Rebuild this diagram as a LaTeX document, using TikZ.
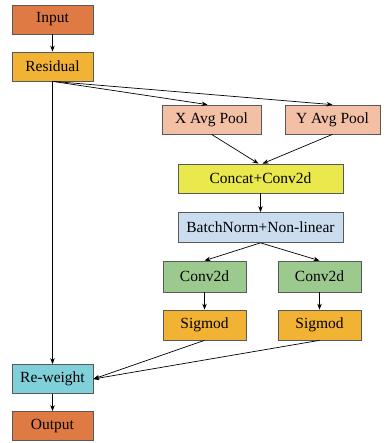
\documentclass[tikz,border=0pt]{standalone}
\usepackage{fontspec}
\setmainfont{Liberation Serif}
\usetikzlibrary{arrows.meta}

\definecolor{inout}{HTML}{E07A45}
\definecolor{resid}{HTML}{F2B233}
\definecolor{pool}{HTML}{F3C0A5}
\definecolor{concat}{HTML}{E9E84C}
\definecolor{bnorm}{HTML}{CADDEF}
\definecolor{conv}{HTML}{9CC98E}
\definecolor{reweight}{HTML}{80D0D9}

\tikzset{
  block/.style={draw=black!65, line width=0.7pt, minimum height=29pt, inner sep=0pt,
                font=\fontsize{15.5}{18}\selectfont},
  arr/.style={-{Stealth[length=6pt,width=4.5pt]}, line width=0.7pt}
}

\begin{document}
\begin{tikzpicture}[x=1pt,y=-1pt]
      \useasboundingbox (0,0) rectangle (390,443);
      % left column
      \node [block, fill=inout, minimum width=81pt] (input) at (52.5,19.5) {Input};
      \node [block, fill=resid, minimum width=81pt] (residual) at (52.5,66.5) {Residual};
      \node [block, fill=reweight, minimum width=81pt] (reweight) at (52.5,379) {Re-weight};
      \node [block, fill=inout, minimum width=81pt] (output) at (52.5,426) {Output};
      % attention branch
      \node [block, fill=pool, minimum width=99pt] (xpool) at (211.5,119.5) {X Avg Pool};
      \node [block, fill=pool, minimum width=95pt] (ypool) at (332.5,119.5) {Y Avg Pool};
      \node [block, fill=concat, minimum width=165pt] (cat) at (260.5,178.5) {Concat+Conv2d};
      \node [block, fill=bnorm, minimum width=165pt, minimum height=30pt] (bn) at (260.5,227.5) {BatchNorm+Non-linear};
      \node [block, fill=conv, minimum width=83pt, minimum height=31pt] (convl) at (204.5,276.5) {Conv2d};
      \node [block, fill=conv, minimum width=83pt, minimum height=31pt] (convr) at (319.5,276.5) {Conv2d};
      \node [block, fill=resid, minimum width=83pt, minimum height=30pt] (sigl) at (204.5,325) {Sigmod};
      \node [block, fill=resid, minimum width=83pt, minimum height=30pt] (sigr) at (319.5,325) {Sigmod};

      \draw [arr] (input) -- (residual);
      \draw [arr] (residual.south) -- ([xshift=-4pt]xpool.north);
      \draw [arr] (residual.south) -- (ypool.north);
      \draw [arr] (residual) -- (reweight);
      \draw [arr] (xpool.south) -- ([xshift=-2pt]cat.north);
      \draw [arr] (ypool.south) -- ([xshift=2pt]cat.north);
      \draw [arr] (cat) -- (bn);
      \draw [arr] (bn.south) -- (convl.north);
      \draw [arr] (bn.south) -- (convr.north);
      \draw [arr] (convl) -- (sigl);
      \draw [arr] (convr) -- (sigr);
      \draw [arr] (sigl.south) -- (reweight.east);
      \draw [arr] (sigr.south) -- (reweight.east);
      \draw [arr] (reweight) -- (output);
    \end{tikzpicture}
\end{document}
